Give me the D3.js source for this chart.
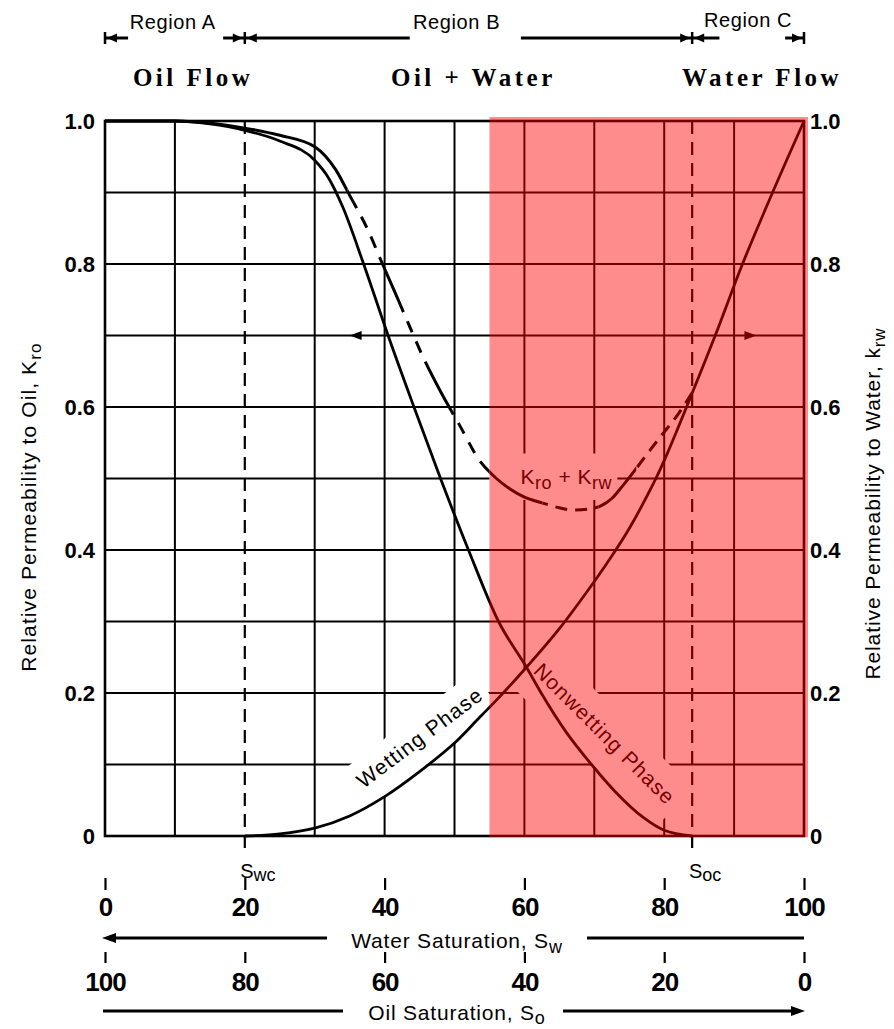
<!DOCTYPE html>
<html><head><meta charset="utf-8">
<script src="https://cdn.jsdelivr.net/npm/d3@7"></script>
<style>body{margin:0;background:#fff}svg{display:block}</style>
</head><body>
<svg id="c" width="894" height="1029"></svg>
<script>
// ---------- data ----------
const swTicks = [0, 20, 40, 60, 80, 100];
const soTicks = [100, 80, 60, 40, 20, 0];
const kTicks = [0, 0.2, 0.4, 0.6, 0.8, 1.0];
const kTickLabels = ["0", "0.2", "0.4", "0.6", "0.8", "1.0"];
const gridSw = [10, 30, 40, 50, 60, 70, 80, 90];
const gridK = [0.1, 0.2, 0.3, 0.4, 0.5, 0.6, 0.7, 0.8, 0.9];
const Swc = 20, Soc = 84, shadeFrom = 55;

// Nonwetting phase (oil) relative permeability
const kroSw = [0, 10, 15, 20, 25, 30, 32, 34, 37, 40.5, 44.2, 48, 52, 56.3, 60.3, 62.4, 66, 69.6, 73, 77, 80, 84];
const kro   = [1.0, 1.0, 0.996, 0.987, 0.972, 0.945, 0.92, 0.88, 0.8, 0.7, 0.6, 0.5, 0.4, 0.3, 0.236, 0.2, 0.145, 0.1, 0.062, 0.026, 0.008, 0];
// Wetting phase (water) relative permeability
const krwSw = [20, 25, 30, 35, 40, 45, 50, 53.6, 56, 60.3, 65, 70, 72.6, 75, 78.3, 80, 83.2, 87.3, 91.2, 95.5, 100];
const krw   = [0, 0.003, 0.011, 0.028, 0.055, 0.09, 0.13, 0.166, 0.19, 0.236, 0.29, 0.356, 0.393, 0.43, 0.49, 0.525, 0.6, 0.7, 0.8, 0.9, 1.0];
// Kro + Krw
const sumSw = [0, 10, 20, 25, 30, 33, 35, 37.5, 39.7, 41.5, 43.3, 45.5, 48.1, 50.7, 53.6, 56, 58, 60, 62.5, 65, 67, 69, 71, 72.5, 74, 76, 78, 80, 82, 84];
const sum   = [1.0, 1.0, 0.99, 0.98, 0.964, 0.932, 0.896, 0.85, 0.8, 0.76, 0.719, 0.67, 0.62, 0.575, 0.525, 0.5, 0.485, 0.474, 0.466, 0.459, 0.456, 0.457, 0.462, 0.472, 0.489, 0.514, 0.54, 0.565, 0.59, 0.62];
const sumSolid  = [[0, 34.7], [55, 62.6], [70.6, 76]];
const sumDashed = [[34.7, 55, "60,10,12,10,12,10"], [62.6, 70.6, "12,8"], [76, 84, "12,8"]];

const regions = [
  {name: "Region A", from: 0, to: Swc, label: 9.7, gapL: 3.3, gapR: 16.9, ly: 29},
  {name: "Region B", from: Swc, to: Soc, label: 50.3, gapL: 43.6, gapR: 59.5, ly: 29},
  {name: "Region C", from: Soc, to: 100, label: 92, gapL: 87.9, gapR: 97.3, ly: 27}
];
const flows = [{t: "Oil Flow", sw: 12.6}, {t: "Oil + Water", sw: 52.7}, {t: "Water Flow", sw: 94}];

// ---------- drawing ----------
const svg = d3.select("#c");
const SANS = "'Liberation Sans', Arial, sans-serif";
const x = d3.scaleLinear([0, 100], [105, 804]);
const xo = d3.scaleLinear([100, 0], [105, 804]);
const y = d3.scaleLinear([0, 1], [836, 121]);
const BLACK = "#000";

function head(g, tx, ty, dir, len = 11, w = 5) {
  g.append("path").attr("d", `M${tx},${ty}L${tx - dir * len},${ty - w}L${tx - dir * len},${ty + w}Z`).attr("fill", BLACK);
}
function sub(t, main, s, size, dy = 5) {
  t.append("tspan").text(main);
  t.append("tspan").attr("dy", dy).attr("font-size", size).text(s);
}

const plot = svg.append("g");
// grid
plot.selectAll(null).data(gridK).join("line")
  .attr("x1", x(0)).attr("x2", x(100)).attr("y1", d => y(d)).attr("y2", d => y(d))
  .attr("stroke", BLACK).attr("stroke-width", 2);
plot.selectAll(null).data(gridSw).join("line")
  .attr("y1", y(1)).attr("y2", y(0)).attr("x1", d => x(d)).attr("x2", d => x(d))
  .attr("stroke", BLACK).attr("stroke-width", 2);

// label masks
const masks = plot.append("g").attr("fill", "#fff");
masks.append("rect").attr("x", x(55)).attr("y", y(0.535)).attr("width", x(73.3) - x(55)).attr("height", y(0.47) - y(0.535));
masks.append("rect").attr("transform", `translate(${x(45)},${y(0.138)}) rotate(-37)`).attr("x", -84).attr("y", -20).attr("width", 166).attr("height", 46);
masks.append("rect").attr("transform", `translate(${x(71.5)},${y(0.143)}) rotate(45)`).attr("x", -102).attr("y", -24).attr("width", 204).attr("height", 56);

// frame
plot.append("rect").attr("x", x(0)).attr("y", y(1)).attr("width", x(100) - x(0)).attr("height", y(0) - y(1))
  .attr("fill", "none").attr("stroke", BLACK).attr("stroke-width", 2.6);

// Swc / Soc dashed verticals
plot.selectAll(null).data([Swc, Soc]).join("line")
  .attr("x1", d => x(d)).attr("x2", d => x(d)).attr("y1", y(1)).attr("y2", y(0) + 20)
  .attr("stroke", BLACK).attr("stroke-width", 2.2).attr("stroke-dasharray", "13,8");

// curves
const line = d3.line().x(d => x(d[0])).y(d => y(d[1])).curve(d3.curveMonotoneX);
const smooth = d3.line().x(d => x(d[0])).y(d => y(d[1])).curve(d3.curveCatmullRom.alpha(0.5));
plot.append("path").attr("d", line(d3.zip(kroSw, kro))).attr("fill", "none").attr("stroke", BLACK).attr("stroke-width", 2.8);
plot.append("path").attr("d", smooth(d3.zip(krwSw, krw))).attr("fill", "none").attr("stroke", BLACK).attr("stroke-width", 2.8);

const defs = svg.append("defs");
const cs = defs.append("clipPath").attr("id", "solidClip");
sumSolid.forEach(r => cs.append("rect").attr("x", x(r[0])).attr("width", x(r[1]) - x(r[0])).attr("y", 0).attr("height", 1029));
plot.append("path").attr("d", line(d3.zip(sumSw, sum))).attr("clip-path", "url(#solidClip)")
  .attr("fill", "none").attr("stroke", BLACK).attr("stroke-width", 3);
sumDashed.forEach((r, i) => {
  defs.append("clipPath").attr("id", "dc" + i).append("rect").attr("x", x(r[0])).attr("width", x(r[1]) - x(r[0])).attr("y", 0).attr("height", 1029);
  plot.append("path").attr("d", line(d3.zip(sumSw, sum))).attr("clip-path", `url(#dc${i})`)
    .attr("fill", "none").attr("stroke", BLACK).attr("stroke-width", 3).attr("stroke-dasharray", r[2]);
});

// axis indicator arrows on 0.7 line
head(plot, x(35), y(0.7), -1, 12, 4.5);
head(plot, x(93.2), y(0.7), 1, 12, 4.5);

// curve labels
const kl = plot.append("text").attr("x", x(66)).attr("y", y(0.5) + 5).attr("text-anchor", "middle")
  .attr("font-family", SANS).attr("font-size", 21).attr("letter-spacing", 0.5);
kl.append("tspan").text("K");
kl.append("tspan").attr("dy", 5).attr("font-size", 18).text("ro");
kl.append("tspan").attr("dy", -5).text(" + K");
kl.append("tspan").attr("dy", 5).attr("font-size", 18).text("rw");

plot.append("text").attr("transform", `translate(${x(45)},${y(0.138)}) rotate(-37)`)
  .attr("text-anchor", "middle").attr("dominant-baseline", "central")
  .attr("font-family", SANS).attr("font-size", 21).attr("letter-spacing", 1.2).text("Wetting Phase");
plot.append("text").attr("transform", `translate(${x(71.5)},${y(0.143)}) rotate(45)`)
  .attr("text-anchor", "middle").attr("dominant-baseline", "central")
  .attr("font-family", SANS).attr("font-size", 21).attr("letter-spacing", 1.2).text("Nonwetting Phase");

// shaded overlay
plot.append("rect").attr("x", x(shadeFrom)).attr("y", y(1) - 4).attr("width", x(100) + 4 - x(shadeFrom)).attr("height", y(0) - y(1) + 5)
  .attr("fill", "#ff0000").attr("fill-opacity", 0.45);

// left / right axes
const axL = svg.append("g").attr("transform", `translate(${x(0)},0)`)
  .call(d3.axisLeft(y).tickValues(kTicks).tickFormat((d, i) => kTickLabels[i]).tickSize(0).tickPadding(10));
const axR = svg.append("g").attr("transform", `translate(${x(100)},0)`)
  .call(d3.axisRight(y).tickValues(kTicks).tickFormat((d, i) => kTickLabels[i]).tickSize(0).tickPadding(6));
[axL, axR].forEach(a => {
  a.select(".domain").remove();
  a.selectAll("text").attr("font-family", SANS).attr("font-size", 22).attr("font-weight", "bold").attr("fill", BLACK);
});

// axis titles
const tl = svg.append("text").attr("transform", `translate(36,${y(0.46)}) rotate(-90)`).attr("text-anchor", "middle")
  .attr("font-family", SANS).attr("font-size", 21).attr("letter-spacing", 1.1);
sub(tl, "Relative Permeability to Oil, K", "ro", 17, 5);
const tr = svg.append("text").attr("transform", `translate(880,${y(0.465)}) rotate(-90)`).attr("text-anchor", "middle")
  .attr("font-family", SANS).attr("font-size", 21).attr("letter-spacing", 0.9);
sub(tr, "Relative Permeability to Water, k", "rw", 17, 5);

// bottom axes
const ab1 = svg.append("g").attr("transform", "translate(0,878)")
  .call(d3.axisBottom(x).tickValues(swTicks).tickFormat(d3.format("d")).tickSize(12).tickPadding(8));
const ab2 = svg.append("g").attr("transform", "translate(0,952)")
  .call(d3.axisBottom(xo).tickValues(soTicks).tickFormat(d3.format("d")).tickSize(11).tickPadding(10));
[ab1, ab2].forEach(a => {
  a.select(".domain").remove();
  a.selectAll("line").attr("stroke", BLACK).attr("stroke-width", 2.2);
  a.selectAll("text").attr("font-family", SANS).attr("font-size", 26).attr("font-weight", "bold").attr("fill", BLACK).attr("letter-spacing", -1);
});

// Swc / Soc labels
[[Swc, "wc"], [Soc, "oc"]].forEach(([v, s]) => {
  const t = svg.append("text").attr("x", x(v) + 13).attr("y", 878).attr("text-anchor", "middle")
    .attr("font-family", SANS).attr("font-size", 20);
  sub(t, "S", s, 18, 3);
});

// saturation arrows and titles
const ar = svg.append("g").attr("stroke", BLACK).attr("stroke-width", 3);
ar.append("line").attr("x1", x(0) + 6).attr("x2", 327).attr("y1", 938).attr("y2", 938);
ar.append("line").attr("x1", 587).attr("x2", x(100)).attr("y1", 938).attr("y2", 938);
ar.append("line").attr("x1", x(0) - 2).attr("x2", 343).attr("y1", 1011).attr("y2", 1011);
ar.append("line").attr("x1", 563).attr("x2", x(100) - 6).attr("y1", 1011).attr("y2", 1011);
head(svg, x(0) - 3, 938, -1, 14, 5);
head(svg, x(100) + 1, 1011, 1, 14, 5);

const tw = svg.append("text").attr("x", 457).attr("y", 948).attr("text-anchor", "middle")
  .attr("font-family", SANS).attr("font-size", 21).attr("letter-spacing", 0.8);
sub(tw, "Water Saturation, S", "w", 18, 5);
const to = svg.append("text").attr("x", 457).attr("y", 1020).attr("text-anchor", "middle")
  .attr("font-family", SANS).attr("font-size", 21).attr("letter-spacing", 0.8);
sub(to, "Oil Saturation, S", "o", 18, 4);

// header: regions
const hd = svg.append("g");
const LY = 38;
regions.forEach(r => {
  hd.append("text").attr("x", x(r.label)).attr("y", r.ly).attr("text-anchor", "middle")
    .attr("font-family", SANS).attr("font-size", 20).attr("letter-spacing", 0.6).text(r.name);
  hd.append("line").attr("x1", x(r.from)).attr("x2", x(r.gapL)).attr("y1", LY).attr("y2", LY).attr("stroke", BLACK).attr("stroke-width", 3);
  hd.append("line").attr("x1", x(r.gapR)).attr("x2", x(r.to)).attr("y1", LY).attr("y2", LY).attr("stroke", BLACK).attr("stroke-width", 3);
  head(hd, x(r.from) + 2, LY, -1, 10, 4.5);
  head(hd, x(r.to) - 2, LY, 1, 10, 4.5);
});
hd.selectAll(null).data([0, Swc, Soc, 100]).join("line")
  .attr("x1", d => x(d)).attr("x2", d => x(d)).attr("y1", LY - 6).attr("y2", LY + 6)
  .attr("stroke", BLACK).attr("stroke-width", 2.5);

flows.forEach(f => {
  svg.append("text").attr("x", x(f.sw)).attr("y", 86).attr("text-anchor", "middle")
    .attr("font-family", "'Liberation Serif', 'Times New Roman', serif").attr("font-weight", "bold")
    .attr("font-size", 25).attr("letter-spacing", 3.5).text(f.t);
});
</script>
</body></html>
